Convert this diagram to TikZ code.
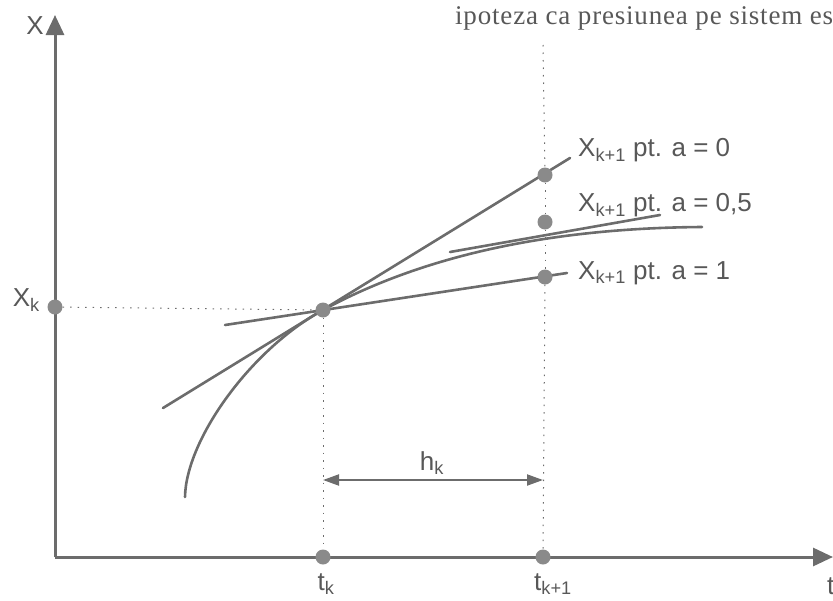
\documentclass[tikz,border=0pt]{standalone}
\usepackage{fontspec}
\setmainfont{Liberation Sans}
\newfontfamily\bookfont[LetterSpace=3]{Liberation Serif}
\usetikzlibrary{arrows.meta, positioning}
\definecolor{inkgray}{RGB}{108,108,108}
\definecolor{dotgray}{RGB}{138,138,138}
\definecolor{textgray}{RGB}{88,88,88}

\begin{document}
\begin{tikzpicture}[x=1pt, y=-1pt,
    axis/.style={-{Triangle[length=20pt, width=18pt]}, line width=3pt, inkgray},
    tangent/.style={line width=2.6pt, inkgray, line cap=round},
    guide/.style={line width=1pt, inkgray, dash pattern=on 1.5pt off 6pt},
    pt/.style={circle, fill=dotgray, inner sep=0pt, minimum size=15pt},
    lbl/.style={font=\fontsize{26}{30}\selectfont, text=textgray, inner sep=0pt},
    span/.style={{Triangle[length=16pt, width=11pt]}-{Triangle[length=16pt, width=11pt]}, line width=2pt, inkgray}
  ]
  \useasboundingbox (0,0) rectangle (833,600);

  \coordinate (origin) at (55,557);
  \coordinate (ytip) at (55,15);
  \coordinate (xtip) at (833,557);
  \draw[axis] (origin) -- (ytip);
  \draw[axis] (origin) -- (xtip);

  \coordinate (a0start) at (163,408);
  \coordinate (a0end) at (570,158);
  \coordinate (a1start) at (225,325);
  \coordinate (a1end) at (567,273);
  \coordinate (a5start) at (450,252);
  \coordinate (a5end) at (660,215);
  \coordinate (cbottom) at (185,497);
  \coordinate (cright) at (702,227);
  \draw[tangent] (a0start) -- (a0end);
  \draw[tangent] (a1start) -- (a1end);
  \draw[tangent] (a5start) -- (a5end);
  \draw[tangent] (cbottom) .. controls (186,440) and (250,350) .. (323,310)
    .. controls (430,252) and (560,228) .. (cright);

  \node[pt] (xk) at (55,307) {};
  \node[pt] (tang) at (323,310) {};
  \node[pt] (tk) at (323,557) {};
  \node[pt] (tk1) at (543,557) {};
  \node[pt] (p0) at (545,175) {};
  \node[pt] (p05) at (545,222) {};
  \node[pt] (p1) at (545,277) {};
  \coordinate (tk1top) at (543,45);

  \draw[guide] (xk) -- (tang);
  \draw[guide] (tang) -- (tk);
  \draw[guide] (tk1top) -- (p0);
  \draw[guide] (p0) -- (p05);
  \draw[guide] (p05) -- (p1);
  \draw[guide] (p1) -- (tk1);

  \coordinate (hleft) at (323,480);
  \coordinate (hright) at (543,480);
  \draw[span] (hleft) -- (hright);

  \node[lbl] (xlabel) at (35,26) {X};
  \node[lbl, anchor=east] (xklabel) at (40,300) {X\textsubscript{k}};
  \node[lbl, anchor=west] (l0) at (578,150) {X\textsubscript{k+1} pt. a = 0};
  \node[lbl, anchor=west] (l05) at (578,205) {X\textsubscript{k+1} pt. a = 0,5};
  \node[lbl, anchor=west] (l1) at (578,273) {X\textsubscript{k+1} pt. a = 1};
  \node[lbl] (hk) at (432,463) {h\textsubscript{k}};
  \node[lbl] (tklabel) at (326,584) {t\textsubscript{k}};
  \node[lbl] (tk1label) at (553,584) {t\textsubscript{k+1}};
  \node[lbl, anchor=west] (tlabel) at (827,586) {t};
  \node[lbl, font=\bookfont\fontsize{27}{30}\selectfont, anchor=base west] (top) at (455,24) {ipoteza ca presiunea pe sistem es};
\end{tikzpicture}
\end{document}
